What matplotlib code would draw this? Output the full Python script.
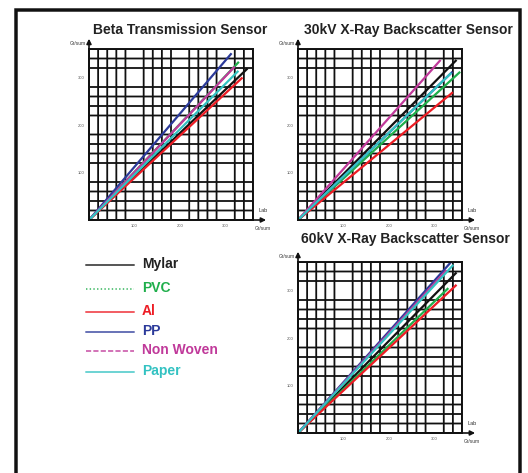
import matplotlib
matplotlib.use("Agg")
import matplotlib.pyplot as plt
from matplotlib.patches import Rectangle

plt.rcParams["font.family"] = ["Liberation Sans", "DejaVu Sans"]
plt.rcParams["path.snap"] = False

materials = ["Mylar", "PVC", "Al", "PP", "Non Woven", "Paper"]
colors = ["#111111", "#1fae4b", "#ed1c24", "#2b3a9a", "#c0399a", "#33c2c2"]
legend_styles = ["-", ":", "-", "-", "--", "-"]

# end points (x = lab Gr/sum, y = sensor Gr/sum), every line starts at 0,0
beta_x = [348, 329, 337, 313, 320, 328]
beta_y = [319, 333, 300, 351, 323, 314]
kv30_x = [348, 356, 340, 339, 313, 337]
kv30_y = [337, 312, 269, 312, 337, 310]
kv60_x = [348, 330, 348, 337, 326, 341]
kv60_y = [338, 305, 312, 361, 343, 354]

ticks = [100, 200, 300]
W, H = 528, 473

fig = plt.figure(figsize=(W / 100, H / 100), dpi=100)

# outer frame
fig.patches.append(Rectangle((16 / W, -0.05), (520 - 16) / W, (H - 10) / H + 0.05,
                             transform=fig.transFigure, fill=False,
                             edgecolor="#111111", linewidth=2.5))


def panel(left, top, title, tx, ty, xs, ys):
    ax = fig.add_axes([left / W, (H - top - 171) / H, 164 / W, 171 / H])
    ax.set_xlim(0, 360)
    ax.set_ylim(0, 360)
    ax.set_xticks(ticks)
    ax.set_yticks(ticks)
    ax.set_xticklabels([str(t) for t in ticks], fontsize=3, color="#555555")
    ax.set_yticklabels([str(t) for t in ticks], fontsize=3, color="#555555")
    ax.set_xticks(range(0, 361, 20), minor=True)
    ax.set_yticks(range(0, 361, 20), minor=True)
    ax.tick_params(which="both", length=0, pad=3)
    ax.grid(which="minor", color="#111111", linewidth=1.3)
    ax.set_axisbelow(True)
    for s in ax.spines.values():
        s.set_linewidth(1.4)
        s.set_color("#111111")
    for x, y, c in zip(xs, ys, colors):
        ax.plot([0, x], [0, y], color=c, linewidth=1.6, solid_capstyle="butt")
    ax.annotate("", xy=(0, 1.06), xytext=(0, 0), xycoords="axes fraction",
                arrowprops=dict(arrowstyle="-|>", color="#111111", lw=1.2,
                                mutation_scale=7, shrinkA=0, shrinkB=0))
    ax.annotate("", xy=(1.08, 0), xytext=(0, 0), xycoords="axes fraction",
                arrowprops=dict(arrowstyle="-|>", color="#111111", lw=1.2,
                                mutation_scale=7, shrinkA=0, shrinkB=0))
    ax.text(-0.02, 1.03, "Gr/sum", transform=ax.transAxes, fontsize=3.5,
            ha="right", va="center", color="#333333")
    ax.text(1.06, 0.04, "Lab", transform=ax.transAxes, fontsize=4,
            ha="center", va="bottom", color="#333333")
    ax.text(1.06, -0.035, "Gr/sum", transform=ax.transAxes, fontsize=3.5,
            ha="center", va="top", color="#333333")
    fig.text(tx / W, 1 - ty / H, title, fontsize=10, fontweight="bold",
             ha="center", va="center", color="#222222")
    return ax


panel(89, 49, "Beta Transmission Sensor", 180, 30, beta_x, beta_y)
panel(298, 49, "30kV X-Ray Backscatter Sensor", 408, 30, kv30_x, kv30_y)
panel(298, 262, "60kV X-Ray Backscatter Sensor", 405, 239, kv60_x, kv60_y)

# legend
legend_y = [265, 289, 312, 332, 351, 372]
for name, c, ls, ly in zip(materials, colors, legend_styles, legend_y):
    yy = 1 - ly / H
    fig.add_artist(plt.Line2D([86 / W, 134 / W], [yy, yy], color=c,
                              linestyle=ls, linewidth=1.0,
                              transform=fig.transFigure))
    tc = "#222222" if name == "Mylar" else c
    fig.text(142 / W, yy + 0.002, name, fontsize=10, fontweight="bold",
             color=tc, ha="left", va="center")

fig.savefig("out.png", dpi=100)
